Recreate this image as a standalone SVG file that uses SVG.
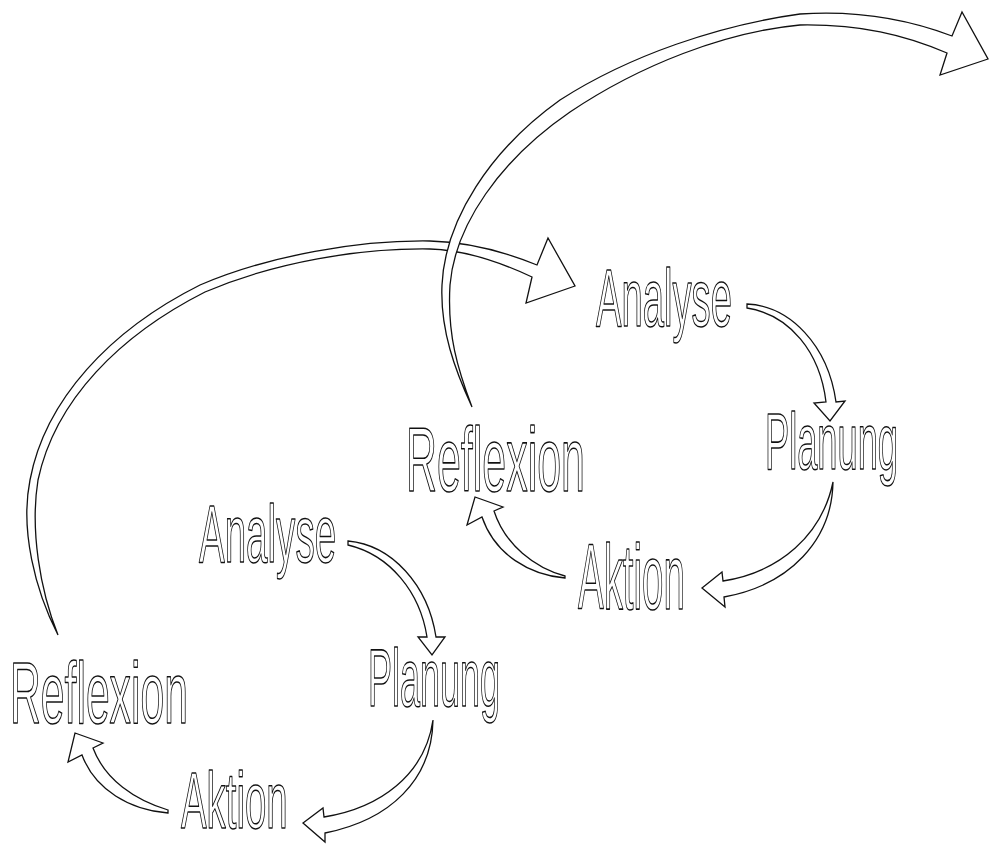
<svg xmlns="http://www.w3.org/2000/svg" width="991" height="845" viewBox="0 0 991 845">
<style>
.bg{fill:#ffffff}
.arrow{fill:#ffffff;stroke:#111111;stroke-width:1.3;stroke-linejoin:miter}
.lbl{font-family:"Liberation Sans","DejaVu Sans",sans-serif;fill:#ffffff;stroke:#111111;stroke-width:1.2;stroke-linejoin:round}
</style>
<rect class="bg" x="0" y="0" width="991" height="845"/>
<g id="connectors">
  <path id="big-arrow-lower-to-upper" class="arrow" d="M58,635 C35,590 20,530 30,480 C45,400 110,330 200,285 C270,255 360,240 430,241 C470,242 505,252 537,265 L548,238 L575,286 L526,303 L532,277 C500,262 465,250 430,249 C360,248 275,262 205,292 C120,335 55,400 38,480 C30,530 40,590 58,635 Z"/>
  <path id="big-arrow-upper-out" class="arrow" d="M472,407 C455,370 440,330 442,285 C445,220 490,150 560,100 C630,55 720,25 800,14 C860,10 910,20 952,36 L962,12 L988,59 L940,75 L947,53 C905,35 860,24 800,25 C725,32 640,65 570,112 C500,160 455,225 450,285 C447,335 458,370 472,407 Z"/>
  <path id="u-analyse-planung" class="arrow" d="M747,304 C790,306 828,345 836,402 L845,401 L830,421 L814,403 L826,402 C820,352 790,315 747,308 Z"/>
  <path id="u-planung-aktion" class="arrow" d="M833,482 C832,540 790,585 724,597 L725,607 L702,588 L722,572 L723,581 C780,572 822,535 833,482 Z"/>
  <path id="u-aktion-reflexion" class="arrow" d="M565,578 C530,575 495,555 482,517 L467,525 L475,497 L503,507 L494,511 C505,545 535,568 565,576 Z"/>
  <path id="l-analyse-planung" class="arrow" d="M348,541 C392,545 428,585 436,637 L445,637 L432,655 L418,637 L427,637 C420,592 390,555 348,545 Z"/>
  <path id="l-planung-aktion" class="arrow" d="M433,720 C432,780 390,820 325,833 L325,842 L303,823 L323,808 L324,817 C380,808 425,775 433,720 Z"/>
  <path id="l-aktion-reflexion" class="arrow" d="M168,813 C130,810 95,790 82,755 L68,762 L75,733 L103,743 L93,748 C105,780 135,800 168,810 Z"/>
</g>
<g id="upper-analyse" transform="translate(596,326) scale(0.466,1)"><text class="lbl" x="0" y="0" font-size="82" vector-effect="non-scaling-stroke">Analyse</text></g>
<g id="upper-planung" transform="translate(765,469) scale(0.453,1)"><text class="lbl" x="0" y="0" font-size="80" vector-effect="non-scaling-stroke">Planung</text></g>
<g id="upper-reflexion" transform="translate(406,491) scale(0.477,1)"><text class="lbl" x="0" y="0" font-size="90" vector-effect="non-scaling-stroke">Reflexion</text></g>
<g id="upper-aktion" transform="translate(578,609) scale(0.418,1)"><text class="lbl" x="0" y="0" font-size="92" vector-effect="non-scaling-stroke">Aktion</text></g>
<g id="lower-analyse" transform="translate(199,562) scale(0.47,1)"><text class="lbl" x="0" y="0" font-size="82" vector-effect="non-scaling-stroke">Analyse</text></g>
<g id="lower-planung" transform="translate(368,706) scale(0.444,1)"><text class="lbl" x="0" y="0" font-size="81" vector-effect="non-scaling-stroke">Planung</text></g>
<g id="lower-reflexion" transform="translate(10,723) scale(0.485,1)"><text class="lbl" x="0" y="0" font-size="88" vector-effect="non-scaling-stroke">Reflexion</text></g>
<g id="lower-aktion" transform="translate(181,828) scale(0.48,1)"><text class="lbl" x="0" y="0" font-size="80" vector-effect="non-scaling-stroke">Aktion</text></g>
</svg>
